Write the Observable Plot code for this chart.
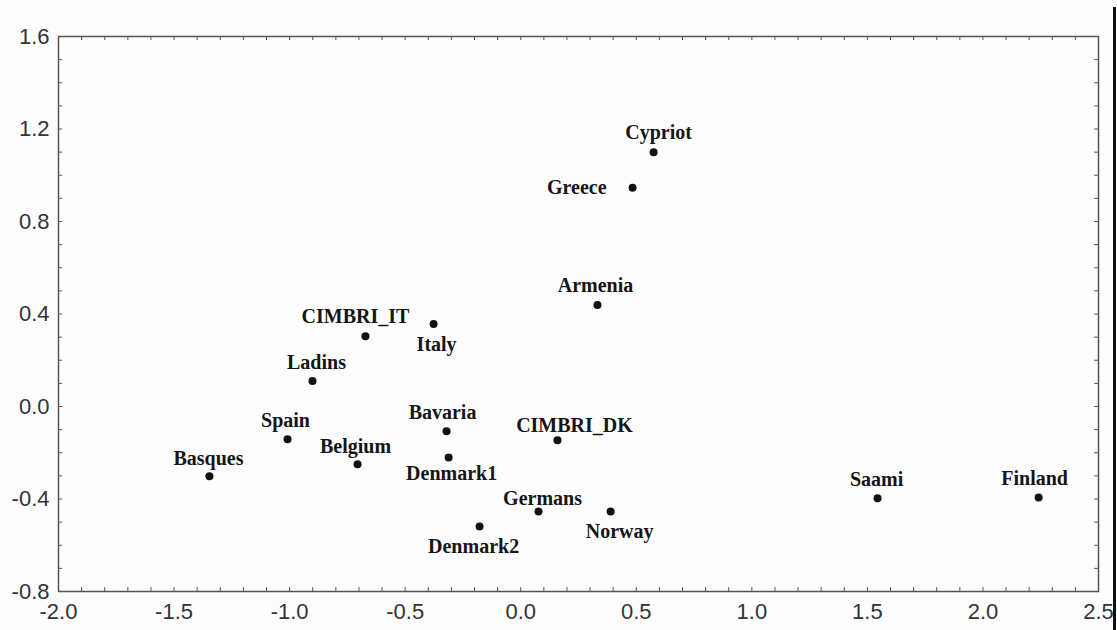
<!DOCTYPE html>
<html>
<head>
<meta charset="utf-8">
<script src="https://cdn.jsdelivr.net/npm/d3@7"></script>
<script src="https://cdn.jsdelivr.net/npm/@observablehq/plot@0.6"></script>
<style>
  html, body { margin: 0; padding: 0; background: #fdfdfd; }
  #wrap { position: relative; width: 1117px; height: 630px; overflow: hidden; }
  #edge { position: absolute; left: 1113px; top: 7px; width: 3px; height: 623px; background: #111; }
  #wrap svg g[aria-label="x-axis tick label"],
  #wrap svg g[aria-label="y-axis tick label"] {
    font-size: 22px !important;
    font-family: 'Liberation Sans', Arial, sans-serif !important;
  }
</style>
</head>
<body>
<div id="wrap"><div id="edge"></div></div>
<script>
// ---- data ----
const populations = ["Cypriot","Greece","Armenia","CIMBRI_IT","Italy","Ladins","Spain","Basques","Belgium","Bavaria","Denmark1","CIMBRI_DK","Germans","Norway","Denmark2","Saami","Finland"];
const dim1 = [0.575, 0.484, 0.332, -0.672, -0.377, -0.901, -1.009, -1.347, -0.706, -0.321, -0.312, 0.159, 0.077, 0.389, -0.178, 1.544, 2.241];
const dim2 = [1.100, 0.946, 0.439, 0.304, 0.357, 0.110, -0.142, -0.302, -0.250, -0.107, -0.220, -0.146, -0.454, -0.454, -0.519, -0.397, -0.393];
const xTickValues = [-2.0, -1.5, -1.0, -0.5, 0.0, 0.5, 1.0, 1.5, 2.0, 2.5];
const yTickValues = [-0.8, -0.4, 0.0, 0.4, 0.8, 1.2, 1.6];

const points = populations.map((name, i) => ({name, x: dim1[i], y: dim2[i]}));

// ---- label placement (layout only) ----
const labelOffset = {
  "Cypriot":   [5, -20, "middle"],
  "Greece":    [-26, 0, "end"],
  "Armenia":   [-2, -19, "middle"],
  "CIMBRI_IT": [-10, -20, "middle"],
  "Italy":     [3, 21, "middle"],
  "Ladins":    [4, -18, "middle"],
  "Spain":     [-2, -19, "middle"],
  "Basques":   [-1, -18, "middle"],
  "Belgium":   [-2, -18, "middle"],
  "Bavaria":   [-4, -19, "middle"],
  "Denmark1":  [3, 16, "middle"],
  "CIMBRI_DK": [17, -15, "middle"],
  "Germans":   [4, -13, "middle"],
  "Norway":    [9, 20, "middle"],
  "Denmark2":  [-6, 20, "middle"],
  "Saami":     [-1, -19, "middle"],
  "Finland":   [-4, -19, "middle"]
};

const W = 1117, H = 630, mL = 58, mR = 19, mT = 36, mB = 39;
const innerW = W - mL - mR, innerH = H - mT - mB;
const minorX = d3.range(-20, 26).map(i => i / 10);
const minorY = d3.range(-8, 17).map(i => i / 10);
const tickLen = 4;
const fmt = d => d.toFixed(1);

const labelMarks = points.map(p => {
  const [dx, dy, anchor] = labelOffset[p.name];
  return Plot.text([p], {
    x: "x", y: "y", text: "name", dx, dy, textAnchor: anchor,
    fontFamily: "'Liberation Serif', 'Times New Roman', serif",
    fontWeight: "bold", fontSize: 20, fill: "#151515"
  });
});

const chart = Plot.plot({
  width: W, height: H,
  marginLeft: mL, marginRight: mR, marginTop: mT, marginBottom: mB,
  style: {background: "transparent", fontFamily: "'Liberation Sans', Arial, sans-serif", fontSize: "22px", color: "#333", overflow: "visible"},
  x: {domain: [-2.0, 2.5]},
  y: {domain: [-0.8, 1.6]},
  marks: [
    Plot.tickX(minorX, {x: d => d, insetTop: innerH - tickLen, stroke: "#555", strokeWidth: 1}),
    Plot.tickX(minorX, {x: d => d, insetBottom: innerH - tickLen, stroke: "#555", strokeWidth: 1}),
    Plot.tickY(minorY, {y: d => d, insetRight: innerW - tickLen, stroke: "#555", strokeWidth: 1}),
    Plot.tickY(minorY, {y: d => d, insetLeft: innerW - tickLen, stroke: "#555", strokeWidth: 1}),
    Plot.frame({stroke: "#555", strokeWidth: 1.5}),
    Plot.axisX({ticks: xTickValues, tickSize: 0, tickPadding: 12, tickFormat: fmt, label: null, fill: "#333", fontSize: 22}),
    Plot.axisY({ticks: yTickValues, tickSize: 0, tickPadding: 9, tickFormat: fmt, label: null, fill: "#333", fontSize: 22}),
    Plot.dot(points, {x: "x", y: "y", r: 4, fill: "#111", stroke: "none"}),
    ...labelMarks
  ]
});

document.getElementById("wrap").insertBefore(chart, document.getElementById("edge"));
</script>
</body>
</html>
